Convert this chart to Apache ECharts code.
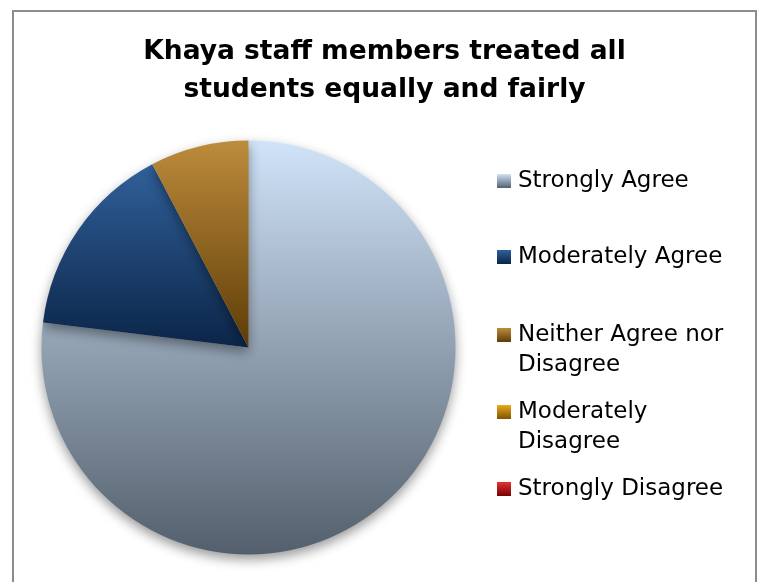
<!DOCTYPE html>
<html>
<head>
<meta charset="utf-8">
<script src="https://cdn.jsdelivr.net/npm/echarts@6/dist/echarts.min.js"></script>
<style>
  body { margin: 0; background: #fff; }
  #frame { position: absolute; left: 12px; top: 10px; width: 741px; height: 580px;
           border: 2px solid #8c8c8c; border-bottom: none; }
  #container { width: 741px; height: 570px; }
</style>
</head>
<body>
<div id="frame"><div id="container"></div></div>
<script type="text/javascript">
const categories = ['Strongly Agree', 'Moderately Agree', 'Neither Agree nor Disagree', 'Moderately Disagree', 'Strongly Disagree'];
// a leading blank line keeps the icon level with the first line of two-line names
const legendLabels = ['Strongly Agree', 'Moderately Agree', ' \nNeither Agree nor\nDisagree', ' \nModerately\nDisagree', 'Strongly Disagree'];
const counts = [10, 2, 1, 0, 0];
// top / bottom colours of each slice's gradient
const topColors = ['#d0e3f8', '#30609a', '#bd8c3c', '#eaaa1c', '#e23434'];
const bottomColors = ['#535f6c', '#0b2548', '#5e3c06', '#7e5200', '#780000'];
const legendTops = [154, 230, 278, 355, 462];

const myChart = echarts.init(document.getElementById('container'));

function grad(i) {
    return new echarts.graphic.LinearGradient(0, 0, 0, 1, [
        { offset: 0, color: topColors[i] },
        { offset: 1, color: bottomColors[i] }
    ]);
}

const font = 'DejaVu Sans';
const legends = categories.map(function (name, i) {
    return {
        orient: 'vertical',
        left: 483,
        top: legendTops[i],
        padding: 0,
        icon: 'rect',
        itemWidth: 14,
        itemHeight: 14,
        data: [name],
        formatter: function () { return legendLabels[i]; },
        textStyle: {
            fontFamily: font,
            fontSize: 23,
            color: '#000',
            lineHeight: 30,
            padding: [0, 0, 0, 2]
        }
    };
});

const option = {
    animation: false,
    title: {
        text: 'Khaya staff members treated all\nstudents equally and fairly',
        left: 'center',
        top: 16,
        textStyle: {
            fontFamily: font,
            fontWeight: 'bold',
            fontSize: 26.5,
            lineHeight: 38,
            color: '#000'
        }
    },
    legend: legends,
    series: [{
        type: 'pie',
        center: [234.5, 335.5],
        radius: 207,
        startAngle: 90,
        clockwise: true,
        label: { show: false },
        labelLine: { show: false },
        emphasis: { disabled: true },
        itemStyle: {
            borderWidth: 0,
            shadowBlur: 12,
            shadowOffsetY: 5,
            shadowColor: 'rgba(0,0,0,0.4)'
        },
        data: categories.map(function (name, i) {
            return { name: name, value: counts[i], itemStyle: { color: grad(i) } };
        })
    }]
};

myChart.setOption(option);
</script>
</body>
</html>
